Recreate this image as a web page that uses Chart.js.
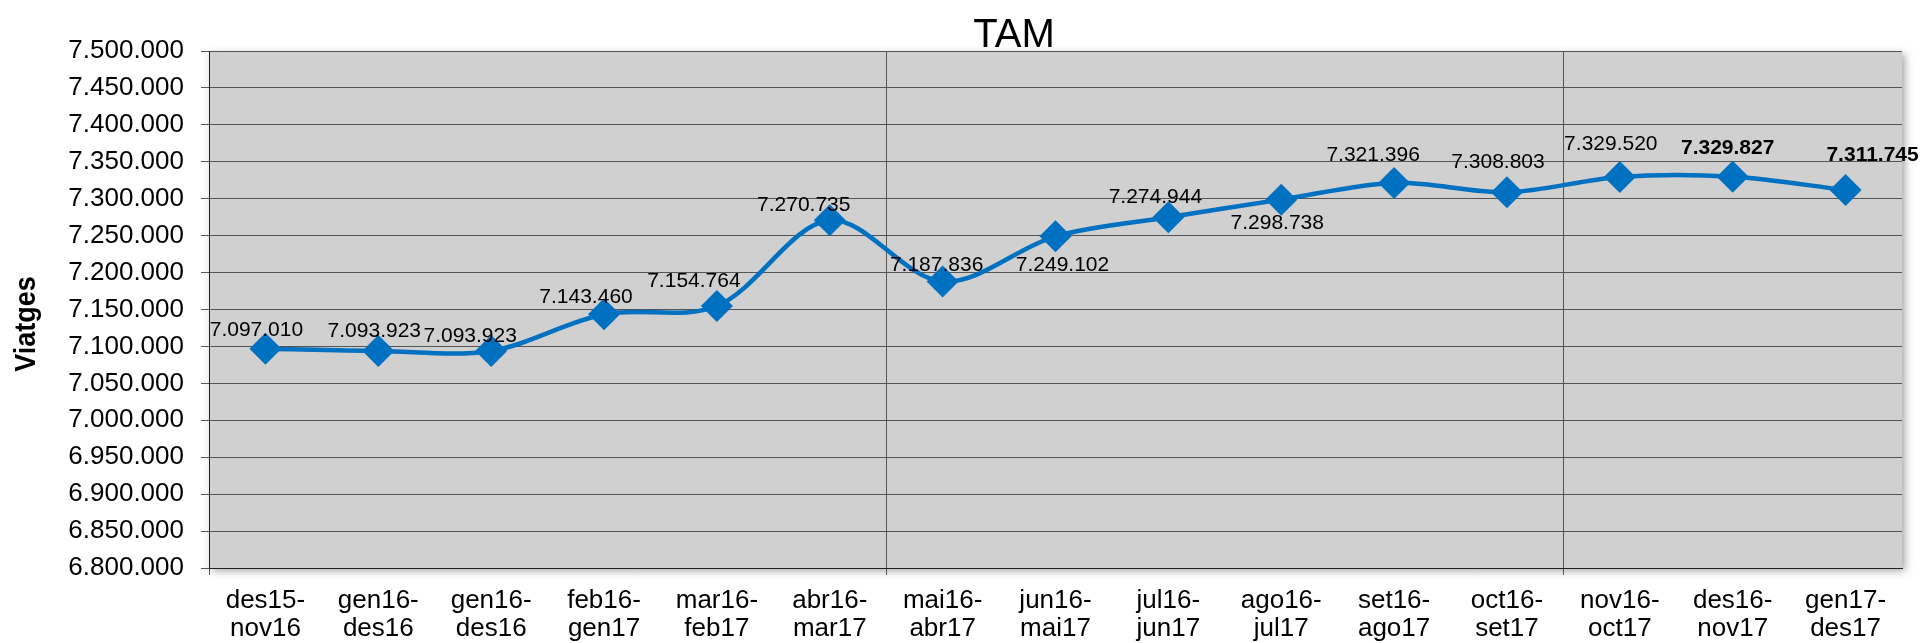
<!DOCTYPE html>
<html>
<head>
<meta charset="utf-8">
<title>TAM</title>
<script src="https://cdn.jsdelivr.net/npm/chart.js@4.4.1/dist/chart.umd.min.js"></script>
<style>
    body { margin: 0; background: #ffffff; }
    canvas { display: block; }
</style>
</head>
<body>
<canvas id="myChart" width="1923" height="643"></canvas>
<script>
// Data
const categories = [
    'des15-nov16', 'gen16-des16', 'gen16-des16', 'feb16-gen17', 'mar16-feb17',
    'abr16-mar17', 'mai16-abr17', 'jun16-mai17', 'jul16-jun17', 'ago16-jul17',
    'set16-ago17', 'oct16-set17', 'nov16-oct17', 'des16-nov17', 'gen17-des17'
];
const viatges = [
    7097010, 7093923, 7093923, 7143460, 7154764,
    7270735, 7187836, 7249102, 7274944, 7298738,
    7321396, 7308803, 7329520, 7329827, 7311745
];
const yMin = 6800000;
const yMax = 7500000;
const yStep = 50000;

// where each value label sits, relative to its point (px)
const labelOffsets = [
    [-9, -18], [-4, -20], [-21, -15], [-18, -17], [-23, -25],
    [-26, -15], [-6, -16], [7, 29], [-13, -20], [-4, 24],
    [-21, -28], [-9, -30], [-9, -33], [-5, -28], [27, -35]
];
const boldLabels = [13, 14];

const FONT = '"Liberation Sans", Arial, sans-serif';
const BLUE = '#0070C0';
const GRID = '#555555';

function formatNumber(n) {
    return Math.round(n).toString().replace(/\B(?=(\d{3})+(?!\d))/g, '.');
}

// split "des15-nov16" into two lines like the original axis
function splitLabel(c) {
    const i = c.indexOf('-');
    return [c.slice(0, i + 1), c.slice(i + 1)];
}

const plotBackground = {
    id: 'plotBackground',
    beforeDraw(chart) {
        const { ctx, chartArea: a } = chart;
        ctx.save();
        ctx.shadowColor = 'rgba(0,0,0,0.35)';
        ctx.shadowBlur = 8;
        ctx.shadowOffsetX = 3;
        ctx.shadowOffsetY = 3;
        ctx.fillStyle = '#D0D0D0';
        ctx.fillRect(a.left, a.top, a.right - a.left, a.bottom - a.top);
        ctx.restore();
    }
};

const textPlugin = {
    id: 'textPlugin',
    afterDraw(chart) {
        const ctx = chart.ctx;
        ctx.save();
        ctx.fillStyle = '#000000';

        // title
        ctx.font = '40px ' + FONT;
        ctx.textAlign = 'center';
        ctx.textBaseline = 'alphabetic';
        ctx.fillText('TAM', 1014, 47);

        // axis title
        ctx.save();
        ctx.translate(27, 324);
        ctx.rotate(-Math.PI / 2);
        ctx.scale(0.9, 1);
        ctx.font = 'bold 30px ' + FONT;
        ctx.textBaseline = 'middle';
        ctx.fillText('Viatges', 0, 0);
        ctx.restore();

        // value labels
        const meta = chart.getDatasetMeta(0);
        ctx.textAlign = 'center';
        ctx.textBaseline = 'middle';
        meta.data.forEach((pt, i) => {
            const bold = boldLabels.includes(i) ? 'bold ' : '';
            ctx.font = bold + '21px ' + FONT;
            const off = labelOffsets[i];
            ctx.fillText(formatNumber(viatges[i]), pt.x + off[0], pt.y + off[1]);
        });
        ctx.restore();
    }
};

const ctx = document.getElementById('myChart').getContext('2d');
new Chart(ctx, {
    type: 'line',
    data: {
        labels: categories.map(splitLabel),
        datasets: [{
            label: 'TAM',
            data: viatges,
            borderColor: BLUE,
            borderWidth: 4.5,
            tension: 0.33,
            fill: false,
            pointStyle: 'rectRot',
            pointRadius: 16,
            pointBorderWidth: 0,
            pointBackgroundColor: BLUE,
            pointBorderColor: BLUE,
            clip: false
        }]
    },
    options: {
        responsive: false,
        animation: false,
        devicePixelRatio: 1,
        layout: { padding: { top: 51, right: 21, left: 0, bottom: 0 } },
        plugins: {
            legend: { display: false },
            title: { display: false },
            tooltip: { enabled: false }
        },
        scales: {
            x: {
                offset: true,
                afterFit: s => { s.height = 75; },
                grid: {
                    offset: true,
                    color: c => ([6, 12, 15].includes(c.index) ? GRID : 'rgba(0,0,0,0)'),
                    tickColor: c => ([0, 6, 12].includes(c.index) ? GRID : 'rgba(0,0,0,0)'),
                    tickLength: 7,
                    lineWidth: 1
                },
                border: { color: '#222222', width: 1 },
                ticks: {
                    autoSkip: false,
                    maxRotation: 0,
                    padding: 12,
                    color: '#000000',
                    font: { family: FONT, size: 26, lineHeight: 1.08 }
                }
            },
            y: {
                min: yMin,
                max: yMax,
                afterFit: s => { s.width = 209; },
                grid: {
                    color: GRID,
                    tickColor: GRID,
                    tickLength: 8,
                    lineWidth: 1
                },
                border: { color: '#222222', width: 1 },
                ticks: {
                    stepSize: yStep,
                    padding: 17,
                    color: '#000000',
                    font: { family: FONT, size: 26 },
                    callback: v => formatNumber(v)
                }
            }
        }
    },
    plugins: [plotBackground, textPlugin]
});
</script>
</body>
</html>
